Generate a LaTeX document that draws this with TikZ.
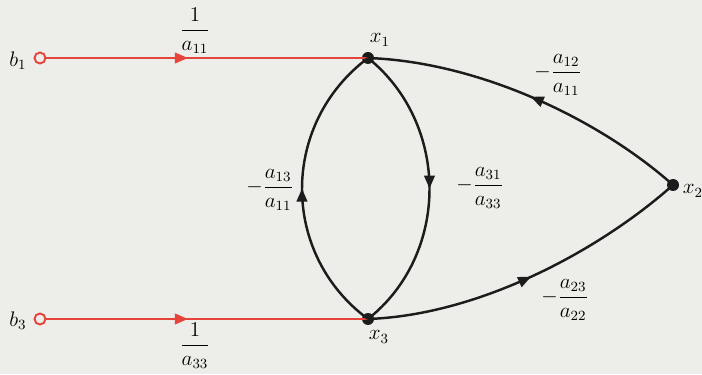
\documentclass[tikz,border=0pt]{standalone}
\usepackage{amsmath}
\usepackage{tikz}
\usetikzlibrary{arrows.meta,decorations.markings}
\definecolor{paper}{RGB}{237,237,233}
\definecolor{signal}{RGB}{228,68,58}
\definecolor{ink}{RGB}{28,28,28}

\begin{document}
\begin{tikzpicture}[
  vardot/.style={circle, fill=ink, inner sep=0pt, minimum size=2.4mm},
  srcdot/.style={circle, draw=signal, line width=1.1pt, fill=paper, inner sep=0pt, minimum size=2.2mm},
  branch/.style={line width=1.4pt, draw=ink, postaction={decorate},
    decoration={markings, mark=at position #1 with {\arrow{Triangle[length=2.6mm,width=2.1mm]}}}},
  feed/.style={line width=1.3pt, draw=signal, postaction={decorate},
    decoration={markings, mark=at position #1 with {\arrow[signal]{Triangle[length=2.6mm,width=2.1mm]}}}},
  gainlbl/.style={font=\large, inner sep=1pt},
  varlbl/.style={font=\large, inner sep=1pt}
]
\fill[paper] (0,0) rectangle (14.04,7.48);
\useasboundingbox (0,0) rectangle (14.04,7.48);

\node[srcdot] (b1) at (0.8,6.32) {};
\node[srcdot] (b3) at (0.8,1.1) {};
\node[vardot] (x1) at (7.36,6.32) {};
\node[vardot] (x3) at (7.36,1.1) {};
\node[vardot] (x2) at (13.46,3.78) {};

\node[varlbl] (b1lbl) at (0.36,6.26) {$b_1$};
\node[varlbl] (b3lbl) at (0.36,1.06) {$b_3$};
\node[varlbl] (x1lbl) at (7.6,6.68) {$x_1$};
\node[varlbl] (x3lbl) at (7.58,0.74) {$x_3$};
\node[varlbl] (x2lbl) at (13.86,3.66) {$x_2$};

\draw[feed=0.44] (b1) -- (x1.center);
\draw[feed=0.44] (b3) -- (x3.center);
\node[gainlbl] (g11) at (3.9,6.86) {$\dfrac{1}{a_{11}}$};
\node[gainlbl] (g33) at (3.9,0.56) {$\dfrac{1}{a_{33}}$};

\draw[branch=0.5] (x3.center) .. controls (5.6,2.4) and (5.6,5.0) .. (x1.center);
\draw[branch=0.5] (x1.center) .. controls (9.0,5.0) and (9.0,2.4) .. (x3.center);
\draw[branch=0.5] (x2.center) .. controls (12.0,5.08) and (9.6,6.24) .. (x1.center);
\draw[branch=0.5] (x3.center) .. controls (9.6,1.18) and (12.0,2.48) .. (x2.center);

\node[gainlbl] (g13) at (5.4,3.68) {$-\dfrac{a_{13}}{a_{11}}$};
\node[gainlbl] (g31) at (9.6,3.72) {$-\dfrac{a_{31}}{a_{33}}$};
\node[gainlbl] (g12) at (11.16,5.98) {$-\dfrac{a_{12}}{a_{11}}$};
\node[gainlbl] (g23) at (11.3,1.48) {$-\dfrac{a_{23}}{a_{22}}$};
\end{tikzpicture}
\end{document}
